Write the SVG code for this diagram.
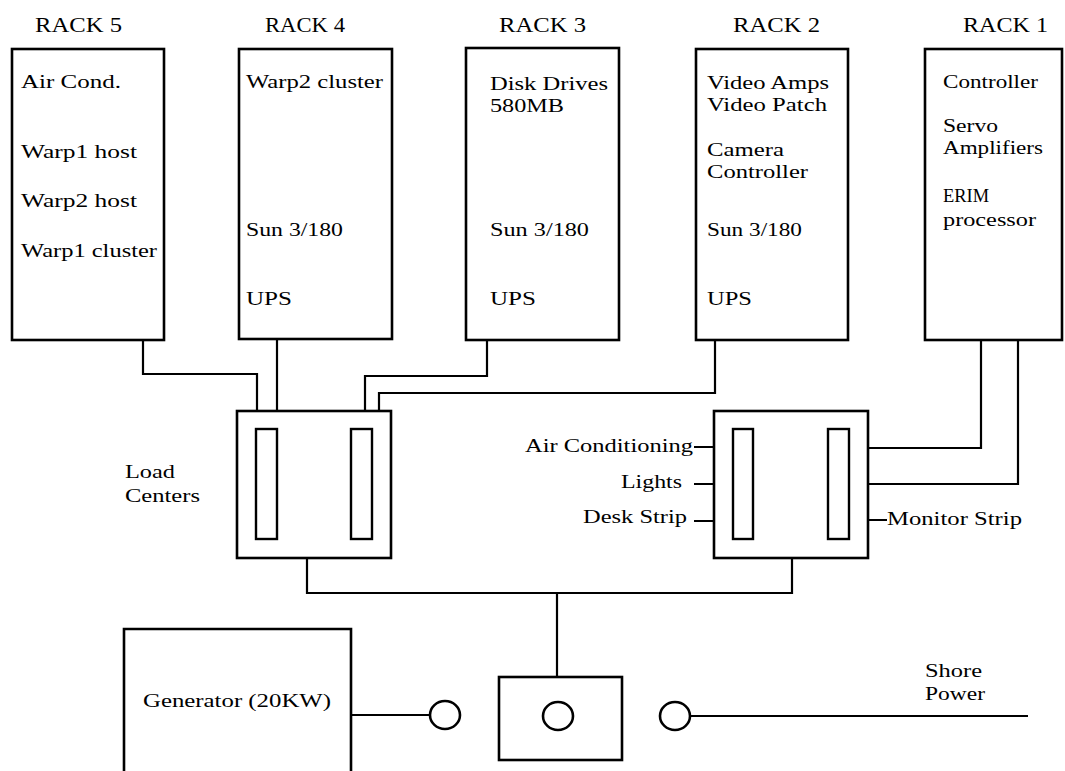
<svg xmlns="http://www.w3.org/2000/svg" width="1065" height="771" viewBox="0 0 1065 771" font-family="'Liberation Serif', 'Times New Roman', serif">
<style>
  .box{fill:none;stroke:#000;stroke-width:2.6}
  .slot{fill:none;stroke:#000;stroke-width:2.4}
  .wire{fill:none;stroke:#000;stroke-width:2.2}
  text{font-family:"Liberation Serif","Times New Roman",serif;fill:#000}
  .t{font-size:19px}
  .h{font-size:21px}
</style>
<rect width="1065" height="771" fill="#fff"/>
<g id="connectors">
  <path class="wire" d="M143 340 V374 H257 V411"/>
  <path class="wire" d="M277 339 V411"/>
  <path class="wire" d="M487 340 V376 H365 V411"/>
  <path class="wire" d="M715 340 V393 H379 V411"/>
  <path class="wire" d="M981 340 V448 H868"/>
  <path class="wire" d="M1018 340 V484 H868"/>
  <path class="wire" d="M694 447 H714 M694 484 H714 M694 521 H714 M868 520 H887"/>
  <path class="wire" d="M307 558 V593 H792 V558 M557 593 V677"/>
  <path class="wire" d="M351 715 H430"/>
  <path class="wire" d="M690 716 H1028"/>
</g>
<g id="rack5">
  <text class="h" x="35" y="32" textLength="87" lengthAdjust="spacingAndGlyphs">RACK 5</text>
  <rect class="box" x="12" y="49" width="152" height="291"/>
  <text class="t" x="21" y="88" textLength="100" lengthAdjust="spacingAndGlyphs">Air Cond.</text>
  <text class="t" x="21" y="158" textLength="116" lengthAdjust="spacingAndGlyphs">Warp1 host</text>
  <text class="t" x="21" y="207" textLength="116" lengthAdjust="spacingAndGlyphs">Warp2 host</text>
  <text class="t" x="21" y="257" textLength="136" lengthAdjust="spacingAndGlyphs">Warp1 cluster</text>
</g>
<g id="rack4">
  <text class="h" x="265" y="32" textLength="80" lengthAdjust="spacingAndGlyphs">RACK 4</text>
  <rect class="box" x="239" y="49" width="153" height="290"/>
  <text class="t" x="246" y="88" textLength="137" lengthAdjust="spacingAndGlyphs">Warp2 cluster</text>
  <text class="t" x="246" y="236" textLength="97" lengthAdjust="spacingAndGlyphs">Sun 3/180</text>
  <text class="t" x="246" y="305" textLength="46" lengthAdjust="spacingAndGlyphs">UPS</text>
</g>
<g id="rack3">
  <text class="h" x="499" y="32" textLength="87" lengthAdjust="spacingAndGlyphs">RACK 3</text>
  <rect class="box" x="466" y="48" width="153" height="292"/>
  <text class="t" x="490" y="90" textLength="118" lengthAdjust="spacingAndGlyphs">Disk Drives</text>
  <text class="t" x="490" y="112" textLength="74" lengthAdjust="spacingAndGlyphs">580MB</text>
  <text class="t" x="490" y="236" textLength="99" lengthAdjust="spacingAndGlyphs">Sun 3/180</text>
  <text class="t" x="490" y="305" textLength="46" lengthAdjust="spacingAndGlyphs">UPS</text>
</g>
<g id="rack2">
  <text class="h" x="733" y="32" textLength="87" lengthAdjust="spacingAndGlyphs">RACK 2</text>
  <rect class="box" x="696" y="49" width="152" height="291"/>
  <text class="t" x="707" y="89" textLength="122" lengthAdjust="spacingAndGlyphs">Video Amps</text>
  <text class="t" x="707" y="111" textLength="120" lengthAdjust="spacingAndGlyphs">Video Patch</text>
  <text class="t" x="707" y="156" textLength="77" lengthAdjust="spacingAndGlyphs">Camera</text>
  <text class="t" x="707" y="178" textLength="101" lengthAdjust="spacingAndGlyphs">Controller</text>
  <text class="t" x="707" y="236" textLength="95" lengthAdjust="spacingAndGlyphs">Sun 3/180</text>
  <text class="t" x="707" y="305" textLength="45" lengthAdjust="spacingAndGlyphs">UPS</text>
</g>
<g id="rack1">
  <text class="h" x="963" y="32" textLength="85" lengthAdjust="spacingAndGlyphs">RACK 1</text>
  <rect class="box" x="925" y="49" width="137" height="291"/>
  <text class="t" x="943" y="88" textLength="95" lengthAdjust="spacingAndGlyphs">Controller</text>
  <text class="t" x="943" y="132" textLength="55" lengthAdjust="spacingAndGlyphs">Servo</text>
  <text class="t" x="943" y="154" textLength="100" lengthAdjust="spacingAndGlyphs">Amplifiers</text>
  <text class="t" x="943" y="202" textLength="46" lengthAdjust="spacingAndGlyphs">ERIM</text>
  <text class="t" x="943" y="226" textLength="93" lengthAdjust="spacingAndGlyphs">processor</text>
</g>
<g id="load-center-left">
  <rect class="box" x="237" y="411" width="154" height="147"/>
  <rect class="slot" x="256" y="429" width="21" height="110"/>
  <rect class="slot" x="351" y="429" width="21" height="110"/>
  <text class="t" x="125" y="478" textLength="50" lengthAdjust="spacingAndGlyphs">Load</text>
  <text class="t" x="125" y="502" textLength="75" lengthAdjust="spacingAndGlyphs">Centers</text>
</g>
<g id="load-center-right">
  <rect class="box" x="714" y="411" width="154" height="147"/>
  <rect class="slot" x="733" y="429" width="20" height="110"/>
  <rect class="slot" x="828" y="429" width="21" height="110"/>
  <text class="t" x="525" y="452" textLength="168" lengthAdjust="spacingAndGlyphs">Air Conditioning</text>
  <text class="t" x="621" y="488" textLength="61" lengthAdjust="spacingAndGlyphs">Lights</text>
  <text class="t" x="583" y="523" textLength="104" lengthAdjust="spacingAndGlyphs">Desk Strip</text>
  <text class="t" x="887" y="525" textLength="135" lengthAdjust="spacingAndGlyphs">Monitor Strip</text>
</g>
<g id="generator">
  <path class="box" d="M124 771 V629 H351 V771"/>
  <text class="t" x="143" y="707" textLength="188" lengthAdjust="spacingAndGlyphs">Generator (20KW)</text>
</g>
<g id="generator-plug">
  <ellipse class="box" cx="445" cy="715" rx="15" ry="14"/>
</g>
<g id="transfer-switch">
  <rect class="box" x="499" y="677" width="123" height="83"/>
  <ellipse class="box" cx="558" cy="716" rx="15" ry="14"/>
</g>
<g id="shore-plug">
  <ellipse class="box" cx="675" cy="716" rx="15" ry="14"/>
</g>
<g id="shore-power">
  <text class="t" x="925" y="677" textLength="57" lengthAdjust="spacingAndGlyphs">Shore</text>
  <text class="t" x="925" y="700" textLength="60" lengthAdjust="spacingAndGlyphs">Power</text>
</g>
</svg>
